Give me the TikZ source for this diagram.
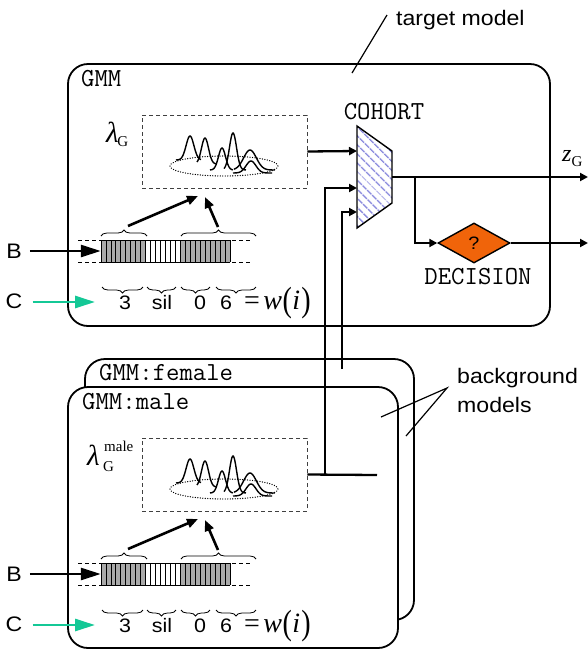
\documentclass[tikz,border=0pt]{standalone}
\usepackage{fontspec}
\setmainfont{Liberation Serif}
\newfontfamily\sansw[FakeStretch=1.1]{Liberation Sans}
\usetikzlibrary{arrows.meta,decorations.pathreplacing,shapes.geometric,patterns.meta}

\definecolor{cohortblue}{RGB}{140,140,222}
\definecolor{decorange}{RGB}{240,100,10}
\definecolor{cgreen}{RGB}{20,200,150}
\definecolor{barfill}{RGB}{170,170,170}

\tikzset{
  panel/.style={draw, fill=white, line width=1.8pt, rounded corners=20pt, inner sep=0pt},
  modelbox/.style={draw=black!75, line width=0.9pt, dash pattern=on 4pt off 3pt,
    minimum width=165pt, minimum height=73pt, inner sep=0pt},
  dens/.style={line width=1.4pt},
  dotell/.style={line width=1.3pt, dash pattern=on 0.1pt off 2.4pt, line cap=round},
  cell/.style={line width=0.8pt},
  streamdash/.style={line width=0.8pt, dash pattern=on 4pt off 3pt},
  brc/.style={line width=0.8pt, decorate, decoration={brace, amplitude=6pt}},
  conn/.style={line width=2.3pt},
  arr/.style={conn, -{Triangle[length=8pt,width=8pt]}},
  midarr/.style={line width=2.6pt, -{Triangle[length=11pt,width=9pt]}},
  bigarr/.style={line width=2.6pt, -{Triangle[length=20pt,width=12pt]}},
  greenarr/.style={cgreen, line width=2.8pt, -{Triangle[length=20pt,width=12pt]}},
  pointer/.style={line width=1.2pt},
  lbl/.style={font=\sansw\fontsize{21}{24}\selectfont, inner sep=0pt},
  seg/.style={font=\sansw\fontsize{19.5}{21}\selectfont, inner sep=0pt, anchor=base},
  monolbl/.style={font=\ttfamily\fontsize{26}{26}\selectfont, inner sep=0pt},
  decbox/.style={diamond, draw, fill=decorange, line width=1.4pt, aspect=1.8,
    minimum width=72pt, minimum height=40pt, inner sep=0pt,
    font=\sansw\fontsize{18}{18}\selectfont},
}

% one Gaussian bump: mean, spread, height, base line, from, to
\newcommand\gauss[6]{%
  \draw[dens] plot[domain=#5:#6, samples=40, smooth]
    (\x,{#4-#3*exp(-((\x-#1)*(\x-#1))/(#2*#2))});}

% contents of a GMM panel; #1 is the prefix of the node names
\newcommand\gmmbody[1]{%
  \node[modelbox] (#1model) at (224.5,151.5) {};
  \draw[dotell] (224,166) ellipse [x radius=54, y radius=10];
  \gauss{190}{5.5}{24}{160}{176}{201}
  \gauss{205}{5}{26}{164}{197}{216}
  \gauss{222}{5}{22}{170}{210}{233}
  \gauss{233}{5}{37}{170}{224}{246}
  \gauss{250}{9}{20}{170}{234}{275}
  \gauss{251}{7}{12}{173}{233}{272}
  % feature stream
  \draw[streamdash] (78,240) -- (250,240) (78,262) -- (250,262);
  \node[minimum width=129pt, minimum height=22pt, inner sep=0pt] (#1bar) at (165.5,251) {};
  \fill[barfill] (101,240) rectangle (145.6,262);
  \fill[white] (145.6,240) rectangle (180.4,262);
  \fill[barfill] (180.4,240) rectangle (230,262);
  \foreach \k in {0,...,26} \draw[cell] ({101+\k*4.96},240) -- ({101+\k*4.96},262);
  \draw[cell] (101,240) -- (230,240) (101,262) -- (230,262);
  % braces over the stream
  \draw[brc] (101,236) -- (147,236);
  \draw[brc] (181,236) -- (256,236);
  % braces of the word segments
  \draw[brc] (143,287) -- (102,287);
  \draw[brc] (176,287) -- (147,287);
  \draw[brc] (210,287) -- (181,287);
  \draw[brc] (256,287) -- (216,287);
  \node[seg] (#1s1) at (125,309) {3};
  \node[seg] (#1s2) at (162,309) {sil};
  \node[seg] (#1s3) at (200,309) {0};
  \node[seg] (#1s4) at (226,309) {6};
  \node[anchor=base west, inner sep=0pt] (#1w) at (244,309)
    {\fontsize{28}{28}\selectfont =\kern3.5pt\textit{w}\kern0.5pt\raisebox{-2.5pt}{\scalebox{1}[1.25]{(}}\kern0.5pt\textit{i}\kern1pt\raisebox{-2.5pt}{\scalebox{1}[1.25]{)}}};
  % segment to model arrows
  \coordinate (#1b1) at (128,226); \coordinate (#1t1) at (198,196);
  \coordinate (#1b2) at (218,227); \coordinate (#1t2) at (205,197);
  \draw[midarr] (#1b1) -- (#1t1);
  \draw[midarr] (#1b2) -- (#1t2);
  % inputs
  \node[lbl] (#1B) at (14,251) {B};
  \node[lbl] (#1C) at (14,301) {C};
  \coordinate (#1cin) at (95,302);
  \draw[bigarr, shorten <=8pt] (#1B.east) -- (#1bar.west);
  \draw[greenarr, shorten <=10pt] (#1C.east |- #1cin) -- (#1cin);
}

\begin{document}
\begin{tikzpicture}[x=1pt, y=-1pt]
  \useasboundingbox (0,0) rectangle (588,649);

  % panels
  \node[panel, minimum width=482pt, minimum height=262pt] (target) at (309,195) {};
  \node[panel, minimum width=329pt, minimum height=261pt] (female) at (249.5,489.5) {};
  \node[panel, minimum width=330pt, minimum height=261pt] (male) at (233,517.5) {};

  \node[monolbl, anchor=base west] (tname) at (81,86) {GMM};
  \node[monolbl, anchor=base west] (fname) at (99,380) {GMM:female};
  \node[monolbl, anchor=base west] (mname) at (82,409) {GMM:male};

  % target model contents
  \gmmbody{t}
  \node[anchor=base west, inner sep=0pt] (tlam) at (106,142)
    {\fontsize{29}{29}\selectfont\textit{λ}\kern-1.5pt\raisebox{-4pt}{\fontsize{15}{15}\selectfont G}};

  % male background model contents
  \begin{scope}[shift={(0,323)}]
    \gmmbody{m}
    \node[anchor=base west, inner sep=0pt] (mlam) at (87,142)
      {\fontsize{29}{29}\selectfont\textit{λ}};
    \node[anchor=base west, inner sep=0pt] (mlamsup) at (104,128)
      {\fontsize{15}{15}\selectfont male};
    \node[anchor=base west, inner sep=0pt] (mlamsub) at (103,148)
      {\fontsize{15}{15}\selectfont G};
  \end{scope}

  % cohort normalisation
  \coordinate (c1) at (357,126); \coordinate (c2) at (392,151);
  \coordinate (c3) at (392,203); \coordinate (c4) at (357,228);
  \fill[pattern={Lines[angle=-45, distance=6.5pt, line width=1.7pt]}, pattern color=cohortblue]
    (c1) -- (c2) -- (c3) -- (c4) -- cycle;
  \draw[line width=1.4pt, line join=miter] (c1) -- (c2) -- (c3) -- (c4) -- cycle;
  \node[monolbl, anchor=base] (cohortlbl) at (384,119) {COHORT};

  \coordinate (cin1) at (357,151);
  \coordinate (cin2) at (357,188);
  \coordinate (cin3) at (357,212);
  \coordinate (cout) at (392,177);

  % scores into the cohort
  \draw[arr] (tmodel.east) -- (cin1);
  \coordinate (mjoin) at (325,475);
  \coordinate (mtail) at (377,475);
  \draw[conn] (mmodel.east) -- (mtail);
  \draw[arr] (mjoin) |- (cin2);
  \coordinate (fstub) at (342,369);
  \draw[arr] (fstub) |- (cin3);

  % outputs
  \node[decbox] (dec) at (474,243) {?};
  \node[monolbl, anchor=base] (declbl) at (478,284) {DECISION};
  \coordinate (zout) at (588,177);
  \coordinate (split) at (415,177);
  \coordinate (dout) at (588,243);
  \draw[arr] (cout) -- (zout);
  \draw[arr] (split) |- (dec.west);
  \draw[arr] (dec.east) -- (dout);
  \node[anchor=base west, inner sep=0pt] (zlbl) at (562,161)
    {\fontsize{24}{24}\selectfont\textit{z}\raisebox{-5pt}{\fontsize{15}{15}\selectfont G}};

  % annotations
  \node[lbl, anchor=base west] (tmlbl) at (396,25) {target model};
  \coordinate (tmp1) at (387,15); \coordinate (tmp2) at (352,73);
  \draw[pointer] (tmp1) -- (tmp2);
  \node[lbl, anchor=base west] (bglbl1) at (457,383) {background};
  \node[lbl, anchor=base west] (bglbl2) at (457,412) {models};
  \coordinate (bgp) at (447,388);
  \coordinate (bgm) at (381,417);
  \coordinate (bgf) at (406,436);
  \draw[pointer] (bgm) -- (bgp) -- (bgf);
\end{tikzpicture}
\end{document}
